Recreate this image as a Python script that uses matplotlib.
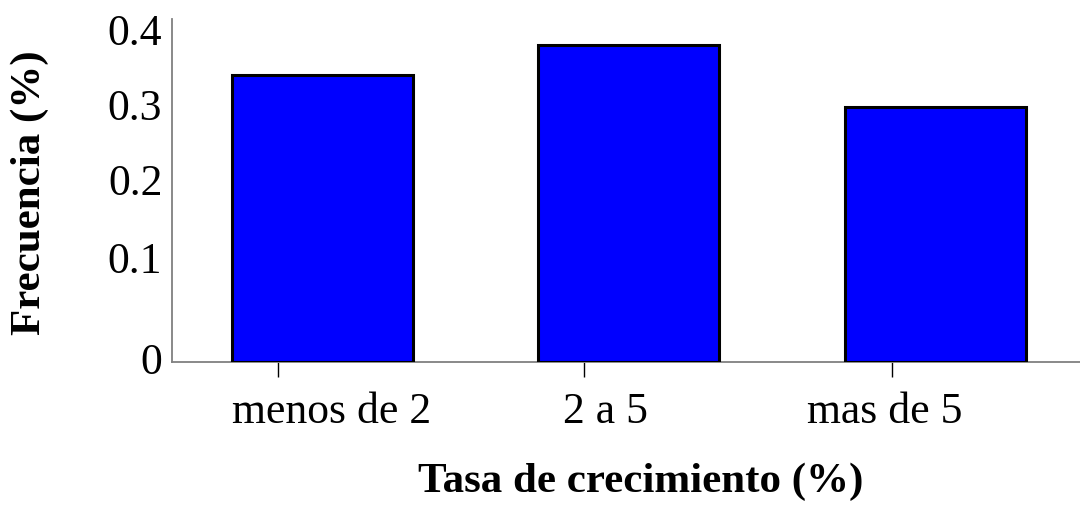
import matplotlib
matplotlib.use('Agg')
import matplotlib.pyplot as plt

plt.rcParams['font.family'] = 'Liberation Serif'

# data
categorias = ['menos de 2', '2 a 5', 'mas de 5']
frecuencia = [0.345, 0.381, 0.306]

# y labels as placed in the original (uneven spacing)
ytick_pos = [0.006, 0.127, 0.220, 0.310, 0.400]
ytick_lab = ['0', '0.1', '0.2', '0.3', '0.4']

# tick marks sit left of the bar centres, labels are offset too
xtick_mark = [-0.143, 0.853, 1.857]
xlabel_pos = [0.03, 0.925, 1.834]

fig = plt.figure(figsize=(10.8, 5.1), dpi=100)
ax = fig.add_axes([172 / 1080, 147 / 510, 908 / 1080, 343 / 510])

x = range(len(categorias))
ax.bar(x, frecuencia, width=0.59, color='#0000FF',
       edgecolor='black', linewidth=2.2, zorder=3)

ax.set_xlim(-0.489, 2.47)
ax.set_ylim(0, 0.412)

ax.set_yticks(ytick_pos)
ax.set_yticklabels(ytick_lab, fontsize=31.5)
ax.tick_params(axis='y', length=0, pad=7)

ax.set_xticks(xtick_mark)
ax.set_xticklabels([''] * len(xtick_mark))
ax.tick_params(axis='x', which='major', length=11, width=1, color='black')
ax.set_xticks(xlabel_pos, minor=True)
ax.set_xticklabels(categorias, minor=True, fontsize=31.5)
ax.tick_params(axis='x', which='minor', length=0, pad=21)

for s in ['top', 'right']:
    ax.spines[s].set_visible(False)
for s in ['left', 'bottom']:
    ax.spines[s].set_color('#808080')
    ax.spines[s].set_linewidth(1.3)

fig.text(641 / 1080, 1 - 482 / 510, 'Tasa de crecimiento (%)',
         ha='center', va='center', fontsize=31, fontweight='bold')
fig.text(30 / 1080, 1 - 193 / 510, 'Frecuencia (%)', rotation=90,
         ha='center', va='center', fontsize=31, fontweight='bold')

fig.savefig('out.png', dpi=100, facecolor='white')
